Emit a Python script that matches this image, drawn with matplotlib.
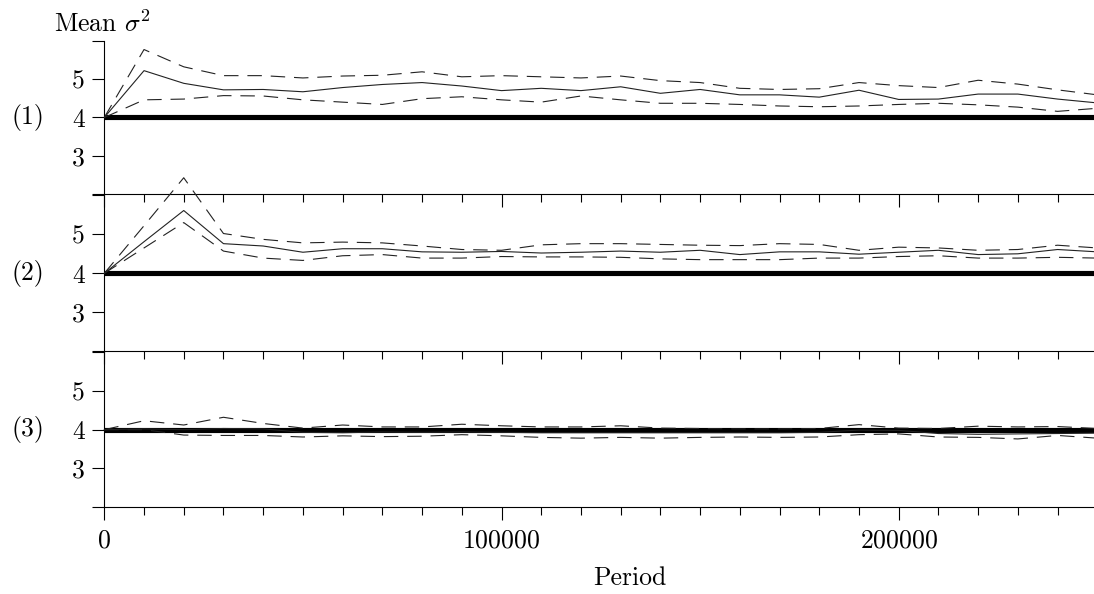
import numpy as np
import matplotlib
matplotlib.use("Agg")
import matplotlib.pyplot as plt
from matplotlib.ticker import MultipleLocator
from matplotlib.transforms import blended_transform_factory

plt.rcParams['font.family'] = 'serif'
plt.rcParams['font.serif'] = ['cmr10']
plt.rcParams['mathtext.fontset'] = 'cm'
plt.rcParams['axes.formatter.use_mathtext'] = True

periods = np.arange(0, 250001, 10000)
benchmark = 4.0

mean_1 = [4.0, 5.22, 4.89, 4.72, 4.73, 4.67, 4.78, 4.86, 4.91, 4.82, 4.70, 4.76, 4.70,
          4.80, 4.63, 4.73, 4.59, 4.59, 4.53, 4.71, 4.47, 4.48, 4.61, 4.61, 4.48, 4.38]
upper_1 = [4.0, 5.77, 5.32, 5.09, 5.09, 5.03, 5.08, 5.10, 5.19, 5.06, 5.09, 5.06, 5.03,
           5.08, 4.96, 4.91, 4.76, 4.73, 4.75, 4.91, 4.83, 4.78, 4.97, 4.87, 4.72, 4.59]
lower_1 = [4.0, 4.46, 4.48, 4.57, 4.56, 4.46, 4.40, 4.34, 4.49, 4.54, 4.46, 4.40, 4.56,
           4.46, 4.37, 4.37, 4.34, 4.30, 4.28, 4.30, 4.34, 4.37, 4.33, 4.27, 4.16, 4.24]

mean_2 = [4.0, 4.81, 5.61, 4.76, 4.70, 4.54, 4.63, 4.63, 4.55, 4.54, 4.56, 4.52, 4.54,
          4.57, 4.54, 4.59, 4.48, 4.55, 4.55, 4.49, 4.54, 4.59, 4.48, 4.50, 4.61, 4.55]
upper_2 = [4.0, 5.22, 6.45, 5.02, 4.87, 4.78, 4.80, 4.78, 4.70, 4.61, 4.59, 4.73, 4.76,
           4.76, 4.74, 4.72, 4.71, 4.76, 4.74, 4.59, 4.67, 4.65, 4.59, 4.61, 4.72, 4.65]
lower_2 = [4.0, 4.65, 5.30, 4.57, 4.39, 4.33, 4.45, 4.48, 4.39, 4.39, 4.43, 4.42, 4.42,
           4.41, 4.37, 4.35, 4.35, 4.35, 4.39, 4.39, 4.43, 4.45, 4.39, 4.39, 4.41, 4.39]

mean_3 = [4.0, 4.02, 4.00, 4.03, 4.02, 3.93, 3.92, 3.94, 3.93, 3.94, 3.93, 3.92, 3.92,
          3.92, 3.92, 3.92, 3.92, 3.92, 3.93, 3.99, 3.98, 3.90, 3.88, 3.89, 3.90, 3.91]
upper_3 = [4.0, 4.23, 4.12, 4.32, 4.16, 4.04, 4.12, 4.07, 4.07, 4.14, 4.10, 4.07, 4.07,
           4.10, 4.04, 4.03, 4.02, 4.02, 4.03, 4.13, 4.04, 4.03, 4.09, 4.07, 4.08, 4.03]
lower_3 = [4.0, 4.00, 3.86, 3.85, 3.85, 3.81, 3.84, 3.82, 3.83, 3.87, 3.84, 3.80, 3.78,
           3.80, 3.78, 3.80, 3.81, 3.80, 3.81, 3.87, 3.89, 3.81, 3.80, 3.76, 3.85, 3.78]

panels = [("(1)", mean_1, upper_1, lower_1),
          ("(2)", mean_2, upper_2, lower_2),
          ("(3)", mean_3, upper_3, lower_3)]

W, H = 1094, 594
fig = plt.figure(figsize=(W / 100, H / 100), dpi=100)

# panel boxes in pixels (top, bottom)
boxes = [(40.7, 194.3), (195.3, 351.3), (352.3, 507.0)]
left_px = 104.3
width_px = 993.0
fs = 18.5

for i, (name, mean, upper, lower) in enumerate(panels):
    top, bot = boxes[i]
    ax = fig.add_axes([left_px / W, 1 - bot / H, width_px / W, (bot - top) / H])
    ax.axhline(benchmark, color='black', lw=3.7, zorder=2)
    ax.plot(periods, mean, color='#222222', lw=0.8, zorder=3, clip_on=False)
    ax.plot(periods, upper, color='#222222', lw=0.8, dashes=(13, 8), zorder=3, clip_on=False)
    ax.plot(periods, lower, color='#222222', lw=0.8, dashes=(13, 8), zorder=3, clip_on=False)

    ax.set_xlim(0, 250000)
    ax.set_ylim(2, 6)
    ax.set_yticks([2, 3, 4, 5, 6])
    ax.set_yticklabels(['', '3', '4', '5', ''])
    ax.xaxis.set_major_locator(MultipleLocator(100000))
    ax.xaxis.set_minor_locator(MultipleLocator(10000))
    ax.tick_params(axis='y', direction='out', length=9, width=0.8, pad=5, labelsize=fs)
    ax.tick_params(axis='x', which='major', direction='out', length=9.4, width=0.8,
                   pad=6, labelsize=fs)
    ax.tick_params(axis='x', which='minor', direction='out', length=5.8, width=0.8)
    if i < 2:
        ax.tick_params(axis='x', which='both', labelbottom=False)
    for s in ['top', 'right']:
        ax.spines[s].set_visible(False)
    for s in ['left', 'bottom']:
        ax.spines[s].set_linewidth(0.8)
    ax.patch.set_alpha(0)

    tr = blended_transform_factory(fig.transFigure, ax.transData)
    fig.text(28 / W, benchmark, name, transform=tr, ha='center', va='center', fontsize=fs)

fig.text(54 / W, 1 - 31.5 / H, r'Mean $\sigma^2$', ha='left', va='baseline', fontsize=fs)
fig.text(630 / W, 1 - 578 / H, 'Period', ha='center', va='center', fontsize=fs)

fig.savefig('out.png', dpi=100)
